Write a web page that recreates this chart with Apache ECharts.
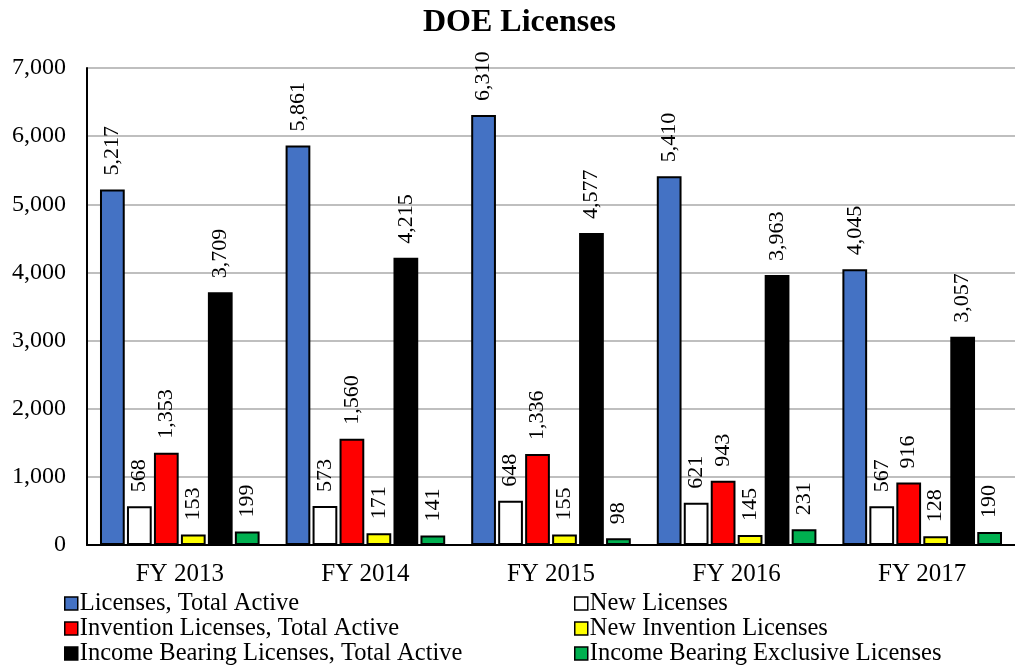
<!DOCTYPE html>
<html>
<head>
<meta charset="utf-8">
<script src="https://cdn.jsdelivr.net/npm/echarts@6/dist/echarts.min.js"></script>
<style>
  html, body { margin: 0; padding: 0; background: #fff; }
  #chart { width: 1015px; height: 668px; }
</style>
</head>
<body>
<div id="chart"></div>
<script>
// data
const years = ['FY 2013', 'FY 2014', 'FY 2015', 'FY 2016', 'FY 2017'];
const licensesTotal = [5217, 5861, 6310, 5410, 4045];
const newLicenses = [568, 573, 648, 621, 567];
const inventionTotal = [1353, 1560, 1336, 943, 916];
const newInvention = [153, 171, 155, 145, 128];
const incomeTotal = [3709, 4215, 4577, 3963, 3057];
const incomeExclusive = [199, 141, 98, 231, 190];

const names = [
  'Licenses, Total Active',
  'New Licenses',
  'Invention Licenses, Total Active',
  'New Invention Licenses',
  'Income Bearing Licenses, Total Active',
  'Income Bearing Exclusive Licenses'
];
const colors = ['#4472C4', '#FFFFFF', '#FF0000', '#FFFF00', '#000000', '#00B050'];
const values = [licensesTotal, newLicenses, inventionTotal, newInvention, incomeTotal, incomeExclusive];

const font = 'Liberation Serif';
const fmt = v => v.toLocaleString('en-US');

const chart = echarts.init(document.getElementById('chart'));

const series = values.map((data, i) => ({
  name: names[i],
  type: 'bar',
  data: data,
  barGap: '9%',
  barCategoryGap: '14%',
  itemStyle: { color: colors[i], borderColor: '#000', borderWidth: 2 },
  label: {
    show: true,
    position: 'top',
    rotate: 90,
    align: 'left',
    verticalAlign: 'middle',
    distance: 14,
    fontFamily: font,
    fontSize: 22,
    color: '#000',
    formatter: p => fmt(p.value)
  }
}));

const legendBase = {
  orient: 'vertical',
  top: 591,
  height: 80,
  padding: 0,
  itemWidth: 13,
  itemHeight: 13,
  itemGap: 0,
  icon: 'rect',
  textStyle: { fontFamily: font, fontSize: 24.5, color: '#000', padding: [0, 0, 0, -3] },
  itemStyle: { borderColor: '#000', borderWidth: 1.5 }
};

chart.setOption({
  animation: false,
  title: {
    text: 'DOE Licenses',
    left: 418,
    top: 2,
    textStyle: { fontFamily: font, fontSize: 32, fontWeight: 'bold', color: '#000' }
  },
  legend: [
    Object.assign({}, legendBase, { left: 64, data: [names[0], names[2], names[4]] }),
    Object.assign({}, legendBase, { left: 574, data: [names[1], names[3], names[5]] })
  ],
  color: colors,
  // the plot runs a little past the right edge of the picture
  grid: { left: 87, width: 938, top: 68, bottom: 123 },
  xAxis: {
    type: 'category',
    data: years,
    axisLine: { lineStyle: { color: '#000', width: 2 } },
    axisTick: { show: false },
    axisLabel: { fontFamily: font, fontSize: 25, color: '#000', margin: 17 }
  },
  yAxis: {
    type: 'value',
    min: 0,
    max: 7000,
    interval: 1000,
    axisLine: { show: true, lineStyle: { color: '#000', width: 2 } },
    axisTick: { show: false },
    splitLine: { lineStyle: { color: '#BFBFBF', width: 2 } },
    axisLabel: { fontFamily: font, fontSize: 24, color: '#000', margin: 21, formatter: fmt }
  },
  series: series
});
</script>
</body>
</html>
